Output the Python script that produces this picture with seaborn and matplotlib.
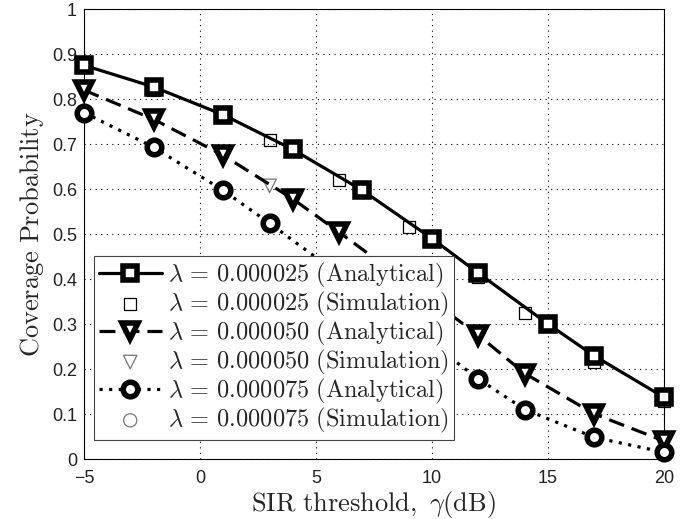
import numpy as np
import pandas as pd
import matplotlib
matplotlib.use('Agg')
import matplotlib.pyplot as plt
import seaborn as sns

# Analytical curves (marker positions)
x_a1 = [-5, -2, 1, 4, 7, 10, 12, 15, 17, 20]
y_a1 = [0.875, 0.827, 0.765, 0.688, 0.597, 0.490, 0.413, 0.300, 0.229, 0.137]
x_a2 = [-5, -2, 1, 4, 6, 9, 12, 14, 17, 20]
y_a2 = [0.820, 0.755, 0.675, 0.578, 0.504, 0.390, 0.275, 0.190, 0.100, 0.040]
x_a3 = [-5, -2, 1, 3, 6, 9, 12, 14, 17, 20]
y_a3 = [0.770, 0.693, 0.597, 0.524, 0.410, 0.295, 0.178, 0.110, 0.048, 0.015]

# Simulation points
x_sim = [-5, -2, 1, 3, 6, 9, 12, 14, 17, 20]
y_s1 = [0.872, 0.820, 0.760, 0.710, 0.620, 0.515, 0.405, 0.325, 0.215, 0.130]
y_s2 = [0.820, 0.752, 0.672, 0.607, 0.500, 0.385, 0.270, 0.190, 0.100, 0.040]
y_s3 = [0.770, 0.690, 0.595, 0.520, 0.410, 0.295, 0.180, 0.110, 0.048, 0.015]

lams = ['0.000025', '0.000050', '0.000075']

sns.set_style('white')
plt.rcParams['mathtext.fontset'] = 'cm'
plt.rcParams['font.family'] = ['Liberation Sans', 'DejaVu Sans']

fig = plt.figure(figsize=(6.99, 5.19), dpi=100)
ax = fig.add_axes([0.120, 0.1156, 0.830, 0.867])

def lab(lam, kind):
    return r'$\lambda\,=\,%s\ \mathrm{(%s)}$' % (lam, kind)

analytical = [(x_a1, y_a1, '-', 's', 9.5), (x_a2, y_a2, (0, (5, 2.5)), 'v', 11.5), (x_a3, y_a3, (0, (1, 2)), 'o', 10.5)]
simulation = [(y_s1, 's', 'k', 75), (y_s2, 'v', '#777777', 95), (y_s3, 'o', '#777777', 90)]

for i in range(3):
    xa, ya, ls, mk, ms = analytical[i]
    sns.lineplot(x=xa, y=ya, ax=ax, color='k', linestyle=ls, linewidth=2.3,
                 marker=mk, markersize=ms, markeredgewidth=4, markerfacecolor='w',
                 markeredgecolor='k', label=lab(lams[i], 'Analytical'), clip_on=False, zorder=3)
    ys, smk, sc, ss = simulation[i]
    sns.scatterplot(x=x_sim, y=ys, ax=ax, marker=smk, s=ss, facecolor='none',
                    edgecolor=sc, linewidth=0.9, label=lab(lams[i], 'Simulation'),
                    zorder=2, clip_on=False)

ax.set_xlim(-5, 20)
ax.set_ylim(0, 1)
ax.set_xticks(np.arange(-5, 21, 5))
ax.set_yticks(np.arange(0, 1.01, 0.1))
ax.set_yticklabels(['0', '0.1', '0.2', '0.3', '0.4', '0.5', '0.6', '0.7', '0.8', '0.9', '1'])
ax.tick_params(direction='in', labelsize=13, length=4, colors='#222222')
ax.tick_params(axis='x', pad=8)
ax.tick_params(axis='y', pad=5)
ax.grid(True, color='k', linestyle=(0, (1, 4)), linewidth=0.8)
for s in ax.spines.values():
    s.set_color('k')
    s.set_linewidth(0.8)

ax.set_xlabel(r'$\mathrm{SIR\ threshold,}\ \gamma\mathrm{(dB)}$', fontsize=19, labelpad=1)
ax.set_ylabel(r'$\mathrm{Coverage\ Probability}$', fontsize=19, labelpad=4)

leg = ax.legend(loc='lower left', bbox_to_anchor=(0.017, 0.042), borderaxespad=0,
                fontsize=17.5, handlelength=2.6, handletextpad=0.25, labelspacing=0.0,
                fancybox=False, framealpha=1, edgecolor='#444444', borderpad=0.2)
leg.get_frame().set_linewidth(0.8)
leg.set_zorder(5)

fig.savefig('out.png', dpi=100)
